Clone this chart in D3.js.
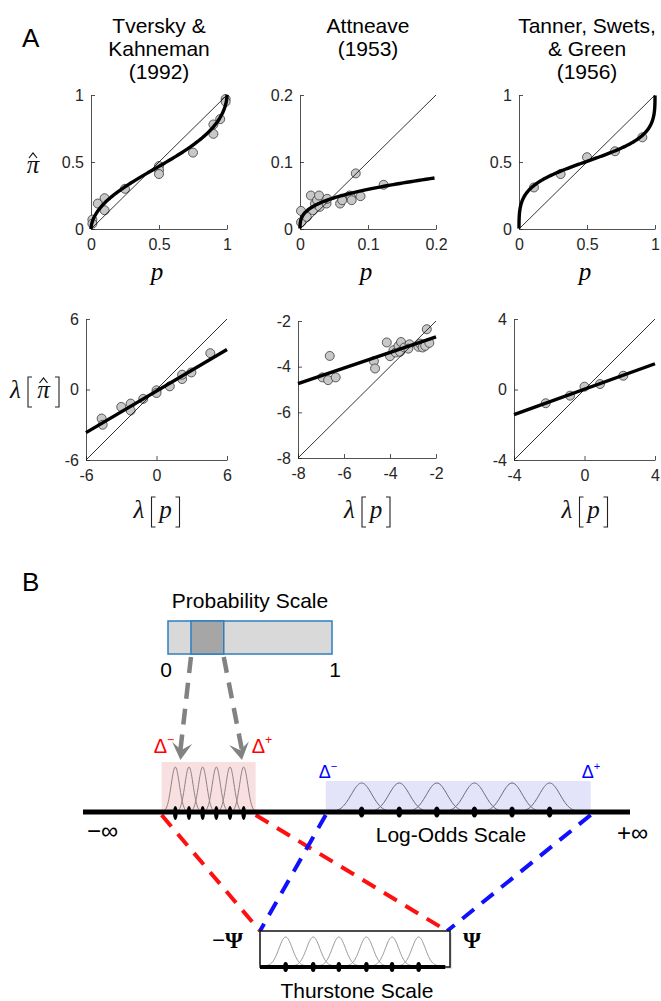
<!DOCTYPE html>
<html>
<head>
<meta charset="utf-8">
<script src="https://cdn.jsdelivr.net/npm/d3@7"></script>
<style>
  body { margin: 0; background: #fff; }
  svg { display: block; }
  text { font-family: "Liberation Sans", Arial, Helvetica, sans-serif; }
  .math { font-family: "Liberation Serif", "Times New Roman", serif; font-style: italic; font-size: 25px; }
</style>
</head>
<body>
<svg id="fig" width="661" height="1001"></svg>
<script>
// ---- panel A data ----
const panelTitles = [["Tversky &", "Kahneman", "(1992)"], ["Attneave", "(1953)"], ["Tanner, Swets,", "& Green", "(1956)"]];

const topDomains = [[0, 1], [0, 0.2], [0, 1]];
const topTicks = [[0, 0.5, 1], [0, 0.1, 0.2], [0, 0.5, 1]];
const botDomains = [[-6, 6], [-8, -2], [-4, 4]];
const botTicks = [[-6, 0, 6], [-8, -6, -4, -2], [-4, 0, 4]];

// Tversky & Kahneman (1992)
const tkP  = [0.01, 0.01, 0.05, 0.1, 0.1, 0.25, 0.5, 0.5, 0.5, 0.75, 0.9, 0.9, 0.95, 0.99, 0.99];
const tkPi = [0.07, 0.04, 0.19, 0.23, 0.14, 0.30, 0.47, 0.44, 0.41, 0.57, 0.71, 0.78, 0.82, 0.97, 0.95];
const tkLogP  = [-4.67, -4.58, -3.0, -2.2, -2.2, -1.13, 0, 0, 1.13, 2.18, 2.18, 2.97, 4.58];
const tkLogPi = [-2.47, -3.0, -1.48, -1.2, -1.79, -0.8, -0.07, -0.3, 0.27, 0.89, 1.26, 1.45, 3.09];

// Attneave (1953)
const atP  = [0.0015, 0.0015, 0.01, 0.016, 0.019, 0.022, 0.025, 0.028, 0.029, 0.039, 0.040, 0.059, 0.062, 0.073, 0.075, 0.076, 0.089, 0.082, 0.123];
const atPi = [0.010, 0.027, 0.018, 0.050, 0.028, 0.038, 0.043, 0.050, 0.033, 0.038, 0.045, 0.038, 0.043, 0.050, 0.047, 0.043, 0.049, 0.083, 0.066];
const atLogP  = [-6.94, -6.69, -6.62, -6.36, -4.70, -4.65, -4.14, -4.0, -3.85, -3.75, -3.63, -3.56, -3.52, -3.37, -3.15, -3.20, -2.76, -2.69, -2.58, -2.47, -2.40, -2.29];
const atLogPi = [-4.47, -4.59, -3.53, -4.47, -3.76, -4.08, -2.94, -3.54, -3.28, -3.38, -3.09, -3.35, -2.92, -3.16, -3.02, -3.21, -3.13, -2.99, -3.16, -3.09, -2.36, -2.96];

// Tanner, Swets & Green (1956)
const tsP  = [0.11, 0.306, 0.50, 0.706, 0.907];
const tsPi = [0.31, 0.41, 0.536, 0.58, 0.684];
const tsLogP  = [-2.2, -0.82, 0, 0.88, 2.2];
const tsLogPi = [-0.78, -0.35, 0.16, 0.31, 0.78];

// linear-in-log-odds fits: slope and intercept
const fitSlope = [0.59, 0.34, 0.36];
const fitIntercept = [-0.13, -2.02, 0.02];

// ---- panel B data (schematic units) ----
const probInterval = [0.14, 0.34];
const arrowTargets = [-5.15, -3.35];
const logOddsRange = [-8, 8];
const redRegion = [-5.7, -2.95];
const redCenters = [-5.3, -4.9, -4.5, -4.1, -3.7, -3.3];
const blueRegion = [-0.9, 6.85];
const blueCenters = [0.15, 1.25, 2.35, 3.45, 4.55, 5.65];
const psiCorners = [-1, 0.97];
const psiCenters = [-0.73, -0.44, -0.17, 0.12, 0.39, 0.67];

const svg = d3.select("#fig");
const axisCol = "#262626";
const logistic = l => 1 / (1 + Math.exp(-l));

const topX = [[91, 227], [300, 436], [519, 655]];
const botX = [[86, 227], [298, 436], [514, 655]];
const topY = [229, 95];
const botY = [[460, 319], [458, 321], [460, 319]];

const topData = [[tkP, tkPi], [atP, atPi], [tsP, tsPi]];
const botData = [[tkLogP, tkLogPi], [atLogP, atLogPi], [tsLogP, tsLogPi]];

function drawAxes(g, x, y, tx, ty) {
  g.append("g").attr("transform", `translate(0,${y.range()[0]})`)
    .call(d3.axisBottom(x).tickValues(tx).tickFormat(String).tickSize(-4).tickSizeOuter(0).tickPadding(10));
  g.append("g").attr("transform", `translate(${x.range()[0]},0)`)
    .call(d3.axisLeft(y).tickValues(ty).tickFormat(String).tickSize(-4).tickSizeOuter(0).tickPadding(7));
  g.selectAll(".domain, .tick line").attr("stroke", axisCol).attr("stroke-width", 0.8);
  g.selectAll(".tick text").attr("fill", axisCol)
    .style("font-size", "16px").style("font-family", '"Liberation Sans", Arial, sans-serif');
}

function drawPoints(g, x, y, xs, ys) {
  g.append("g").selectAll("circle")
    .data(xs.map((v, i) => [v, ys[i]]))
    .join("circle")
    .attr("cx", d => x(d[0])).attr("cy", d => y(d[1])).attr("r", 4.5)
    .attr("fill", "#c8c8c8").attr("stroke", "#3a3a3a").attr("stroke-width", 0.8);
}

function piHat(g, cx, base) {
  g.append("text").attr("class", "math").attr("x", cx).attr("y", base)
    .attr("text-anchor", "middle").text("π");
  g.append("path").attr("d", `M${cx - 4},${base - 15}L${cx},${base - 20}L${cx + 4},${base - 15}`)
    .attr("fill", "none").attr("stroke", "#111").attr("stroke-width", 1.2);
}

function lambdaLabel(x0, base, inner) {
  const g = svg.append("g").attr("fill", "#111");
  g.append("text").attr("class", "math").attr("x", x0).attr("y", base).text("λ");
  const w = inner === "p" ? 12 : 15;
  const lb = x0 + 18, rb = lb + 16 + w, cx = lb + 8 + w / 2;
  const top = base - 21, bot = base + 9;
  g.append("path").attr("d", `M${lb + 4},${top}H${lb}V${bot}H${lb + 4}M${rb - 4},${top}H${rb}V${bot}H${rb - 4}`)
    .attr("fill", "none").attr("stroke", "#222").attr("stroke-width", 1.1);
  if (inner === "p") {
    g.append("text").attr("class", "math").attr("x", cx).attr("y", base).attr("text-anchor", "middle").text("p");
  } else {
    piHat(g, cx, base);
  }
}

// ---- panel A ----
svg.append("text").attr("x", 22).attr("y", 47).style("font-size", "26px").text("A");

topX.forEach((xr, i) => {
  const cx = (xr[0] + xr[1]) / 2;
  svg.append("g").selectAll("text").data(panelTitles[i]).join("text")
    .attr("x", cx).attr("y", (d, k) => 33 + k * 23)
    .attr("text-anchor", "middle").style("font-size", "21px").text(d => d);

  // probability space
  const g = svg.append("g");
  const x = d3.scaleLinear().domain(topDomains[i]).range(xr);
  const y = d3.scaleLinear().domain(topDomains[i]).range(topY);
  drawAxes(g, x, y, topTicks[i], topTicks[i]);
  drawPoints(g, x, y, topData[i][0], topData[i][1]);
  const dmax = topDomains[i][1];
  g.append("line").attr("x1", x(0)).attr("y1", y(0)).attr("x2", x(dmax)).attr("y2", y(dmax))
    .attr("stroke", "#000").attr("stroke-width", 0.8);
  const curve = d3.range(-16, 16.001, 0.04)
    .map(l => [logistic(l), logistic(fitSlope[i] * l + fitIntercept[i])])
    .filter(d => d[0] <= dmax);
  g.append("path").datum(curve)
    .attr("d", d3.line().x(d => x(d[0])).y(d => y(d[1])))
    .attr("fill", "none").attr("stroke", "#000").attr("stroke-width", 3.4);
  g.append("text").attr("class", "math").attr("x", cx - 2).attr("y", 280)
    .attr("text-anchor", "middle").text("p");

  // log-odds space
  const gb = svg.append("g");
  const xb = d3.scaleLinear().domain(botDomains[i]).range(botX[i]);
  const yb = d3.scaleLinear().domain(botDomains[i]).range(botY[i]);
  drawAxes(gb, xb, yb, botTicks[i], botTicks[i]);
  drawPoints(gb, xb, yb, botData[i][0], botData[i][1]);
  const [lo, hi] = botDomains[i];
  gb.append("line").attr("x1", xb(lo)).attr("y1", yb(lo)).attr("x2", xb(hi)).attr("y2", yb(hi))
    .attr("stroke", "#000").attr("stroke-width", 0.8);
  gb.append("line")
    .attr("x1", xb(lo)).attr("y1", yb(fitSlope[i] * lo + fitIntercept[i]))
    .attr("x2", xb(hi)).attr("y2", yb(fitSlope[i] * hi + fitIntercept[i]))
    .attr("stroke", "#000").attr("stroke-width", 3.4);
  lambdaLabel((botX[i][0] + botX[i][1]) / 2 - 23, 518, "p");
});

piHat(svg.append("g").attr("fill", "#111"), 33, 173);
lambdaLabel(10, 398, "pihat");

// ---- panel B ----
svg.append("text").attr("x", 22).attr("y", 591).style("font-size", "26px").text("B");

const pScale = d3.scaleLinear().domain([0, 1]).range([168, 332]);
const lScale = d3.scaleLinear().domain(logOddsRange).range([83, 630]);
const tScale = d3.scaleLinear().domain([-1, 1]).range([260, 450]);
const axisY = 812;

// probability bar
svg.append("text").attr("x", pScale(0.5)).attr("y", 608).attr("text-anchor", "middle")
  .style("font-size", "21px").text("Probability Scale");
svg.append("rect").attr("x", pScale(0)).attr("y", 621).attr("width", pScale(1) - pScale(0)).attr("height", 33)
  .attr("fill", "#d9d9d9").attr("stroke", "#2b7fc0").attr("stroke-width", 1.5);
svg.append("rect").attr("x", pScale(probInterval[0])).attr("y", 621)
  .attr("width", pScale(probInterval[1]) - pScale(probInterval[0])).attr("height", 33)
  .attr("fill", "#a6a6a6").attr("stroke", "#2b7fc0").attr("stroke-width", 1.5);
svg.append("g").selectAll("text").data([0, 1]).join("text")
  .attr("x", d => pScale(d) + (d ? 3 : -2)).attr("y", 677).attr("text-anchor", "middle")
  .style("font-size", "21px").text(d => d);

// shaded regions and gaussians on the log-odds line
const gauss = (scale, c, sd, h, base) => d3.range(-4, 4.001, 0.1)
  .map(z => [scale(c + z * sd), base - h * Math.exp(-z * z / 2)]);
const gline = d3.line();

svg.append("rect").attr("x", lScale(redRegion[0])).attr("y", 762)
  .attr("width", lScale(redRegion[1]) - lScale(redRegion[0])).attr("height", axisY - 762)
  .attr("fill", "#f7dada").attr("opacity", 0.85);
svg.append("rect").attr("x", lScale(blueRegion[0])).attr("y", 781)
  .attr("width", lScale(blueRegion[1]) - lScale(blueRegion[0])).attr("height", axisY - 781)
  .attr("fill", "#e3e3fa");

svg.append("g").selectAll("path").data(redCenters).join("path")
  .attr("d", c => gline(gauss(lScale, c, 0.12, 45, axisY)))
  .attr("fill", "none").attr("stroke", "#8f8282").attr("stroke-width", 1);
svg.append("g").selectAll("path").data(blueCenters).join("path")
  .attr("d", c => gline(gauss(lScale, c, 0.3, 29, axisY)))
  .attr("fill", "none").attr("stroke", "#6a6a72").attr("stroke-width", 1);

// dashed connectors to the Thurstone scale
const cornerY = 931;
const connectors = [
  { from: redRegion[0], to: psiCorners[0], color: "#ff1010" },
  { from: redRegion[1], to: psiCorners[1], color: "#ff1010" },
  { from: blueRegion[0], to: psiCorners[0], color: "#1010ff" },
  { from: blueRegion[1], to: psiCorners[1], color: "#1010ff" }
];
svg.append("g").selectAll("line").data(connectors).join("line")
  .attr("x1", d => lScale(d.from)).attr("y1", axisY + 3)
  .attr("x2", d => tScale(d.to)).attr("y2", cornerY)
  .attr("stroke", d => d.color).attr("stroke-width", 4).attr("stroke-dasharray", "15 10");

// main log-odds axis
svg.append("line").attr("x1", lScale(logOddsRange[0])).attr("x2", lScale(logOddsRange[1]))
  .attr("y1", axisY).attr("y2", axisY).attr("stroke", "#000").attr("stroke-width", 5);
svg.append("g").selectAll("ellipse").data(redCenters).join("ellipse")
  .attr("cx", d => lScale(d)).attr("cy", axisY + 1).attr("rx", 2.3).attr("ry", 7);
svg.append("g").selectAll("ellipse").data(blueCenters).join("ellipse")
  .attr("cx", d => lScale(d)).attr("cy", axisY).attr("rx", 3).attr("ry", 5.5);

// gray dashed arrows from probability interval to the log-odds line
probInterval.forEach((p, k) => {
  const x1 = pScale(p), y1 = 657, x2 = lScale(arrowTargets[k]), y2 = 760;
  const ang = Math.atan2(y2 - y1, x2 - x1) * 180 / Math.PI - 90;
  svg.append("line").attr("x1", x1).attr("y1", y1).attr("x2", x2).attr("y2", y2 - 10)
    .attr("stroke", "#828282").attr("stroke-width", 4.5).attr("stroke-dasharray", "16 10");
  svg.append("path").attr("d", "M0,0L-10,-17L0,-10L10,-17Z")
    .attr("transform", `translate(${x2},${y2}) rotate(${ang})`).attr("fill", "#828282");
});

// delta labels
const deltaLabel = (x, y, sign, color, size) => {
  const t = svg.append("text").attr("x", x).attr("y", y).attr("fill", color).style("font-size", size + "px").text("Δ");
  t.append("tspan").attr("dy", -size * 0.45).style("font-size", (size * 0.62) + "px").text(sign);
};
deltaLabel(lScale(redRegion[0]) - 8, 753, "−", "#ff0000", 20);
deltaLabel(lScale(redRegion[1]) - 4, 753, "+", "#ff0000", 20);
deltaLabel(lScale(blueRegion[0]) - 7, 778, "−", "#0000ff", 18);
deltaLabel(lScale(blueRegion[1]) - 9, 778, "+", "#0000ff", 18);

svg.append("text").attr("x", 87).attr("y", 839).style("font-size", "24px").text("−∞");
svg.append("text").attr("x", 617).attr("y", 841).style("font-size", "24px").text("+∞");
svg.append("text").attr("x", 451).attr("y", 842).attr("text-anchor", "middle")
  .style("font-size", "21px").text("Log-Odds Scale");

// Thurstone scale box
svg.append("rect").attr("x", tScale(-1) + 2).attr("y", cornerY + 2).attr("width", tScale(1) - tScale(-1)).attr("height", 36)
  .attr("fill", "#cfcfcf").attr("opacity", 0.6);
svg.append("rect").attr("x", tScale(-1)).attr("y", cornerY).attr("width", tScale(1) - tScale(-1)).attr("height", 36)
  .attr("fill", "#fff").attr("stroke", "#111").attr("stroke-width", 1.5);
svg.append("g").selectAll("path").data(psiCenters).join("path")
  .attr("d", c => gline(gauss(tScale, c, 0.07, 29, 966)))
  .attr("fill", "none").attr("stroke", "#999").attr("stroke-width", 1);
svg.append("line").attr("x1", tScale(-1)).attr("x2", tScale(0.95)).attr("y1", 967).attr("y2", 967)
  .attr("stroke", "#000").attr("stroke-width", 4);
svg.append("g").selectAll("ellipse").data(psiCenters).join("ellipse")
  .attr("cx", d => tScale(d)).attr("cy", 967).attr("rx", 2.5).attr("ry", 5);

const serifBold = '"Liberation Serif", "Times New Roman", serif';
svg.append("text").attr("x", 212).attr("y", 948).style("font-family", serifBold)
  .style("font-weight", "bold").style("font-size", "23px").text("−Ψ");
svg.append("text").attr("x", 463).attr("y", 948).style("font-family", serifBold)
  .style("font-weight", "bold").style("font-size", "23px").text("Ψ");
svg.append("text").attr("x", tScale(0.02)).attr("y", 998).attr("text-anchor", "middle")
  .style("font-size", "21px").text("Thurstone Scale");
</script>
</body>
</html>
